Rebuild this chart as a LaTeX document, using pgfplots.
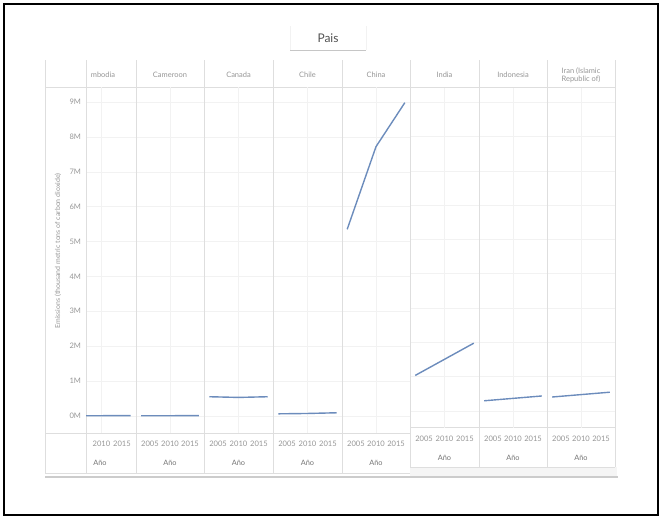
\documentclass[border=0pt]{standalone}
\usepackage{fontspec}
\setmainfont{Lato}
\usepackage{pgfplots}
\pgfplotsset{compat=1.18}

\definecolor{co2}{RGB}{108,140,188}
\definecolor{gridc}{RGB}{242,242,242}
\definecolor{sepc}{RGB}{222,222,222}
\definecolor{txt}{RGB}{150,150,150}
\definecolor{labc}{RGB}{115,115,115}
\definecolor{titc}{RGB}{80,80,80}

\pgfplotsset{
  panel/.style={
    scale only axis, anchor=south west, width=#1, height=346bp,
    xmin=2004.1, xmax=2015.9, ymin=-0.49, ymax=9.43,
    xtick={2005,2010,2015},
    xticklabels={\makebox[0pt][l]{2005},2010,\makebox[0pt][r]{2015}},
    ytick={0,...,9}, yticklabels={},
    ymajorgrids, major grid style={draw=gridc},
    extra x ticks={2010}, extra x tick labels={}, extra x tick style={grid=major},
    major tick length=0pt,
    axis line style={draw=sepc},
    tick label style={font=\fontsize{7.6}{8}\selectfont, text=txt},
    xticklabel style={yshift=-4.5bp},
    xlabel={Año},
    xlabel style={at={(axis description cs:0.5,0)}, anchor=center, yshift=-30bp,
      font=\fontsize{7.4}{8}\selectfont, text=labc},
    /pgf/number format/assume math mode=true,
  },
  co2line/.style={co2, line width=1.4bp},
}

\begin{document}
\begin{tikzpicture}
\useasboundingbox (0,0) rectangle (661bp,-517bp);
\draw[line width=2bp] (4bp,-4bp) rectangle (658bp,-515bp);

% title
\node[text=titc, font=\fontsize{12}{14}\selectfont] at (328bp,-38bp) {Pais};
\draw[gray!45, line width=0.8bp] (290bp,-50bp) -- (366bp,-50bp);
\draw[gray!10] (290bp,-26bp) -- (290bp,-50bp) (366bp,-26bp) -- (366bp,-50bp);

% table frame and separators
\fill[gray!8] (410bp,-467bp) rectangle (617bp,-477bp);
\draw[gray!40, line width=1.2bp] (45bp,-477bp) -- (618bp,-477bp);
\foreach \x in {45,86,136,204,273,342} \draw[sepc] (\x bp,-60bp) -- (\x bp,-473bp);
\foreach \x in {410,479,547,615} \draw[sepc] (\x bp,-60bp) -- (\x bp,-467bp);
\draw[sepc] (45bp,-473bp) -- (410bp,-473bp);
\draw[sepc] (410bp,-467bp) -- (615bp,-467bp);
\draw[sepc] (45bp,-87bp) -- (86bp,-87bp);
\draw[sepc] (45bp,-433bp) -- (86bp,-433bp);

% column headers
\begin{scope}[every node/.style={text=txt, font=\fontsize{7.5}{8.5}\selectfont}]
\node at (103bp,-75bp) {mbodia};
\node at (170bp,-75bp) {Cameroon};
\node at (238.5bp,-75bp) {Canada};
\node at (307.5bp,-75bp) {Chile};
\node at (376bp,-75bp) {China};
\node at (444.5bp,-75bp) {India};
\node at (513bp,-75bp) {Indonesia};
\node[align=center] at (581bp,-75bp) {Iran (Islamic\\Republic of)};
\end{scope}

% y axis title
\node[rotate=90, text=txt, font=\fontsize{7}{8}\selectfont] at (58bp,-251bp)
  {Emissions (thousand metric tons of carbon dioxide)};

% left block
\begin{axis}[panel=50bp, at={(86bp,-433bp)}, xmin=2007.35,
  yticklabels={0M,1M,2M,3M,4M,5M,6M,7M,8M,9M},
  yticklabel style={xshift=-1.5bp},
  xlabel style={at={(axis description cs:0.28,0)}}]
\addplot[co2line] coordinates {(2005,0.004) (2010,0.006) (2015,0.009)};
\end{axis}
\begin{axis}[panel=68bp, at={(136bp,-433bp)}]
\addplot[co2line] coordinates {(2005,0.005) (2010,0.006) (2015,0.007)};
\end{axis}
\begin{axis}[panel=69bp, at={(204bp,-433bp)}]
\addplot[co2line] coordinates {(2005,0.55) (2010,0.53) (2015,0.55)};
\end{axis}
\begin{axis}[panel=69bp, at={(273bp,-433bp)}]
\addplot[co2line] coordinates {(2005,0.06) (2010,0.07) (2015,0.09)};
\end{axis}
\begin{axis}[panel=68bp, at={(342bp,-433bp)}]
\addplot[co2line] coordinates {(2005,5.35) (2010,7.72) (2015,8.98)};
\end{axis}

% right block (sits slightly higher)
\begin{axis}[panel=69bp, height=340bp, at={(410bp,-427.5bp)}]
\addplot[co2line] coordinates {(2005,1.03) (2010,1.50) (2015,1.97)};
\end{axis}
\begin{axis}[panel=68bp, height=340bp, at={(479bp,-427.5bp)}]
\addplot[co2line] coordinates {(2005,0.29) (2010,0.36) (2015,0.43)};
\end{axis}
\begin{axis}[panel=68bp, height=340bp, at={(547bp,-427.5bp)}]
\addplot[co2line] coordinates {(2005,0.40) (2010,0.47) (2015,0.54)};
\end{axis}
\end{tikzpicture}
\end{document}
